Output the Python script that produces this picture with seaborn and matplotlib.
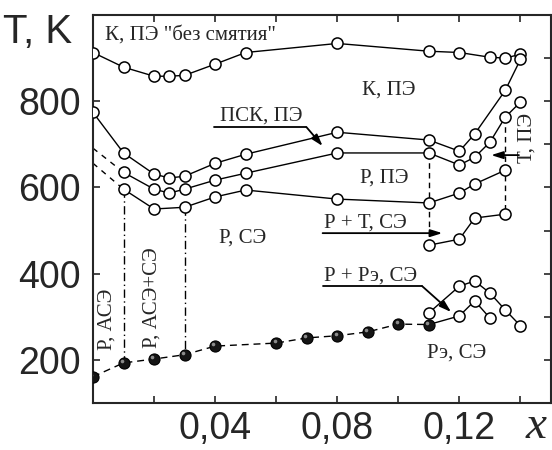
import matplotlib
matplotlib.use("Agg")
import matplotlib.pyplot as plt
import matplotlib.transforms as mtransforms
from matplotlib.ticker import FixedLocator, FuncFormatter, NullFormatter
import pandas as pd
import seaborn as sns

# Composition x and phase-transition temperatures T (K)
x_top = [0, 0.01, 0.02, 0.025, 0.03, 0.04, 0.05, 0.08, 0.11, 0.12, 0.13, 0.135, 0.14]
t_top = [913, 879, 858, 858, 860, 886, 913, 934, 916, 913, 902, 900, 909]

x_psk = [0, 0.01, 0.02, 0.025, 0.03, 0.04, 0.05, 0.08, 0.11, 0.12, 0.125, 0.135, 0.14]
t_psk = [774, 680, 631, 622, 626, 656, 677, 728, 710, 684, 724, 825, 897]

x_rpe = [0.01, 0.02, 0.025, 0.03, 0.04, 0.05, 0.08, 0.11, 0.12, 0.125, 0.13, 0.135, 0.14]
t_rpe = [635, 596, 587, 596, 617, 633, 680, 680, 652, 670, 705, 763, 798]
t_rpe_x0 = 691  # dashed extrapolation to x = 0

x_rse = [0.01, 0.02, 0.03, 0.04, 0.05, 0.08, 0.11, 0.12, 0.125, 0.135]
t_rse = [596, 550, 554, 578, 594, 573, 564, 587, 608, 640]
t_rse_x0 = 656  # dashed extrapolation to x = 0

x_rt = [0.11, 0.12, 0.125, 0.135]
t_rt = [466, 480, 529, 538]

x_re_up = [0.11, 0.12, 0.125, 0.13, 0.135, 0.14]
t_re_up = [309, 371, 383, 355, 316, 279]

x_re_low = [0.11, 0.12, 0.125, 0.13]
t_re_low = [282, 302, 337, 297]

x_ase = [0, 0.01, 0.02, 0.03, 0.04, 0.06, 0.07, 0.08, 0.09, 0.10, 0.11]
t_ase = [161, 193, 202, 212, 232, 239, 251, 256, 265, 283, 282]

x_major = [0.04, 0.08, 0.12]
x_minor = [0.02, 0.06, 0.10, 0.14]
y_major = [200, 400, 600, 800]
y_minor = [300, 500, 700, 900]

sns.set_style("ticks")
plt.rcParams["font.family"] = ["Liberation Serif", "DejaVu Serif"]

fig = plt.figure(figsize=(5.52, 4.5), dpi=100)
ax = fig.add_axes([93 / 552, 47 / 450, 458 / 552, 388 / 450])

LW = 1.0
open_mk = dict(marker="o", markersize=8, markerfacecolor="white",
               markeredgecolor="black", markeredgewidth=1.1)


def curve(xs, ts, **kw):
    df = pd.DataFrame({"x": xs, "T": ts})
    sns.lineplot(data=df, x="x", y="T", ax=ax, color="black", lw=LW,
                 estimator=None, errorbar=None, sort=False, legend=False, **kw)


def at(xs, ts, xv):
    return ts[xs.index(xv)]


# vertical boundaries
for xv in (0.11, 0.135):
    curve([xv, xv], [at(x_rpe, t_rpe, xv), at(x_rt, t_rt, xv)],
          linestyle=(0, (4, 3)), zorder=1)
for xv in (0.01, 0.03):
    curve([xv, xv], [at(x_rse, t_rse, xv), at(x_ase, t_ase, xv)],
          linestyle=(0, (6, 2.5, 1, 2.5)), zorder=1)

# dashed extrapolations to x = 0
curve([0, x_rpe[0]], [t_rpe_x0, t_rpe[0]], linestyle=(0, (4, 4)), zorder=1)
curve([0, x_rse[0]], [t_rse_x0, t_rse[0]], linestyle=(0, (4, 4)), zorder=1)

# solid transition lines with open circles
curve(x_top, t_top, zorder=3, **open_mk)
curve(x_psk, t_psk, zorder=3, **open_mk)
curve(x_rpe, t_rpe, zorder=3, **open_mk)
curve(x_rse, t_rse, zorder=3, **open_mk)
curve(x_rt, t_rt, zorder=3, **open_mk)
curve(x_re_up, t_re_up, zorder=3, **open_mk)
curve(x_re_low, t_re_low, zorder=2)
curve(x_re_low[1:], t_re_low[1:], zorder=3, linestyle="none", **open_mk)

# low-temperature line with filled balls
curve(x_ase, t_ase, zorder=4, linestyle=(0, (5, 3.5)), marker="o",
      markersize=8, markerfacecolor="#151515", markeredgecolor="black",
      markeredgewidth=0.8)
hl = mtransforms.offset_copy(ax.transData, fig=fig, x=-1.2, y=1.4, units="points")
ax.plot(x_ase, t_ase, linestyle="none", marker="o", markersize=2.6,
        markerfacecolor="#8c8c8c", markeredgecolor="none", zorder=5,
        transform=hl)

# phase labels
fs = 15
ax.text(0.004, 953, 'К, ПЭ "без смятия"', fontsize=fs, ha="left", va="center")
ax.text(0.097, 825, "К, ПЭ", fontsize=fs, ha="center", va="center")
ax.text(0.0954, 622, "Р, ПЭ", fontsize=fs, ha="center", va="center")
ax.text(0.049, 483, "Р, СЭ", fontsize=fs, ha="center", va="center")
ax.text(0.119, 216, "Рэ, СЭ", fontsize=fs, ha="center", va="center")
ax.text(0.0046, 293, "Р, АСЭ", fontsize=fs, ha="center", va="center", rotation=90)
ax.text(0.0193, 344, "Р, АСЭ+СЭ", fontsize=fs, ha="center", va="center", rotation=90)
ax.text(0.1422, 714, "Т, ПЭ", fontsize=fs, ha="center", va="center", rotation=90)

arrow = dict(arrowstyle="-|>,head_length=0.7,head_width=0.22", color="black",
             lw=1.3, shrinkA=0, shrinkB=0)

ax.text(0.0415, 756, "ПСК, ПЭ", fontsize=fs, ha="left", va="baseline")
ax.plot([0.0395, 0.0699], [740, 740], color="black", lw=1.3)
ax.annotate("", xy=(0.0752, 696), xytext=(0.0699, 740), arrowprops=arrow)

ax.text(0.0758, 508, "Р + Т, СЭ", fontsize=fs, ha="left", va="baseline")
ax.annotate("", xy=(0.1144, 494), xytext=(0.0752, 494), arrowprops=arrow)

ax.text(0.0758, 385, "Р + Рэ, СЭ", fontsize=fs, ha="left", va="baseline")
ax.plot([0.0752, 0.1078], [371, 371], color="black", lw=1.3)
ax.annotate("", xy=(0.1173, 311), xytext=(0.1078, 371), arrowprops=arrow)

ax.annotate("", xy=(0.1304, 675), xytext=(0.1395, 675), arrowprops=arrow)

# axes
ax.set_xlim(0, 0.15)
ax.set_ylim(100, 1000)
ax.set_xlabel("")
ax.set_ylabel("")
for s in ax.spines.values():
    s.set_linewidth(1.5)
    s.set_visible(True)

ax.xaxis.set_major_locator(FixedLocator(x_major))
ax.xaxis.set_minor_locator(FixedLocator(x_minor))
ax.yaxis.set_major_locator(FixedLocator(y_major))
ax.yaxis.set_minor_locator(FixedLocator(y_minor))
ax.xaxis.set_major_formatter(FuncFormatter(lambda v, p: f"{v:.2f}".replace(".", ",")))
ax.xaxis.set_minor_formatter(NullFormatter())
ax.yaxis.set_minor_formatter(NullFormatter())
ax.tick_params(which="both", direction="in", length=5, width=1.2,
               top=True, bottom=True, left=True, right=True)
ax.tick_params(axis="y", which="minor", left=False, right=True)
ax.tick_params(axis="y", which="major", pad=9)
ax.tick_params(axis="x", which="major", pad=6)
for lab in ax.get_xticklabels() + ax.get_yticklabels():
    lab.set_fontfamily("Liberation Sans")
    lab.set_fontsize(27)

fig.text(3 / 552, 1 - 43 / 450, "T, K", fontsize=29, family="Liberation Sans",
         ha="left", va="baseline")
fig.text(536 / 552, 1 - 438 / 450, "x", fontsize=34, style="italic",
         family="Liberation Serif", ha="center", va="baseline")

fig.savefig("out.png", dpi=100)
